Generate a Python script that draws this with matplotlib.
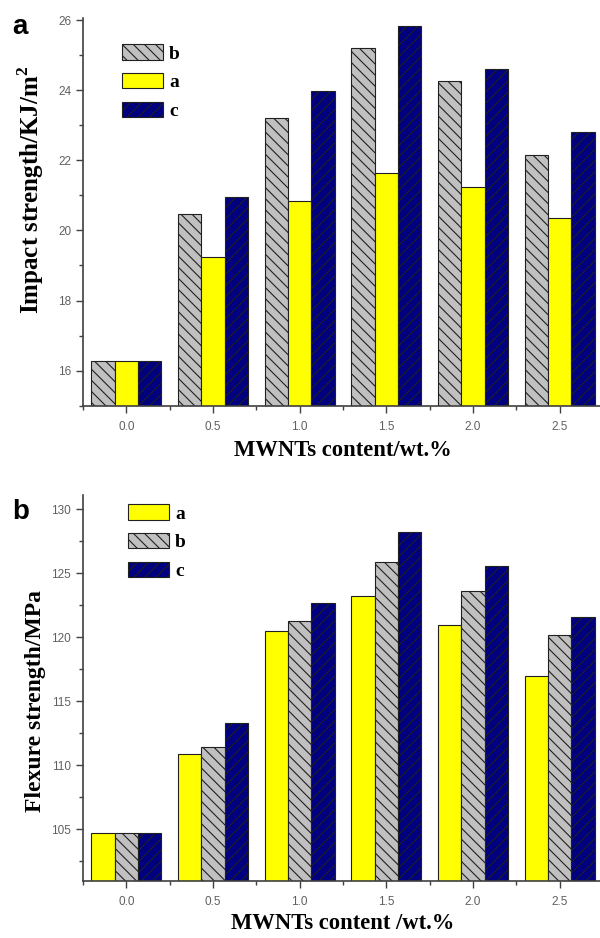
import matplotlib
matplotlib.use("Agg")
import matplotlib.pyplot as plt
import numpy as np
from matplotlib.ticker import MultipleLocator, FixedLocator

plt.rcParams['hatch.linewidth'] = 0.8
plt.rcParams['mathtext.fontset'] = 'custom'
plt.rcParams['mathtext.rm'] = 'Liberation Serif:bold'
plt.rcParams['mathtext.bf'] = 'Liberation Serif:bold'

# ---------------- data ----------------
content = [0.0, 0.5, 1.0, 1.5, 2.0, 2.5]
tick_labels = ["0.0", "0.5", "1.0", "1.5", "2.0", "2.5"]

impact_b = [16.27, 20.47, 23.20, 25.20, 24.27, 22.16]
impact_a = [16.27, 19.24, 20.83, 21.63, 21.25, 20.34]
impact_c = [16.27, 20.95, 23.97, 25.82, 24.60, 22.81]

flex_a = [104.70, 110.85, 120.45, 123.22, 120.98, 116.94]
flex_b = [104.70, 111.40, 121.26, 125.85, 123.60, 120.16]
flex_c = [104.70, 113.28, 122.67, 128.25, 125.58, 121.57]

W, H = 600, 938
fig = plt.figure(figsize=(W / 100, H / 100), dpi=100)

serif = 'Liberation Serif'
sans = 'Liberation Sans'
axc = '#404040'
tickc = '#606060'

styles = {
    'a': dict(color='#ffff00', hatch=None),
    'b': dict(color='#c0c0c0', hatch='\\\\\\'),
    'c': dict(color='#000080', hatch='///'),
}

def px_axes(left, top, right, bottom):
    return [left / W, 1 - bottom / H, (right - left) / W, (bottom - top) / H]

def style_axes(ax, ylim, ymaj, ymin):
    ax.set_xlim(-0.25, 2.75)
    ax.set_ylim(*ylim)
    for s in ['top', 'right']:
        ax.spines[s].set_visible(False)
    for s in ['left', 'bottom']:
        ax.spines[s].set_color(axc)
        ax.spines[s].set_linewidth(1.2)
    ax.xaxis.set_major_locator(FixedLocator(content))
    ax.set_xticklabels(tick_labels)
    ax.xaxis.set_minor_locator(FixedLocator([-0.25, 0.25, 0.75, 1.25, 1.75, 2.25, 2.75]))
    ax.yaxis.set_major_locator(MultipleLocator(ymaj))
    ax.yaxis.set_minor_locator(MultipleLocator(ymin))
    ax.tick_params(which='major', direction='out', length=5, width=1.0, color=axc,
                   labelsize=8.5, labelcolor=tickc)
    ax.tick_params(which='minor', direction='out', length=2.8, width=1.0, color=axc)
    ax.tick_params(axis='x', which='major', pad=6)
    ax.tick_params(axis='y', which='major', pad=3.5)
    for lab in ax.get_xticklabels() + ax.get_yticklabels():
        lab.set_fontfamily(sans)

def draw(ax, series, width=0.135):
    x = np.array(content)
    offs = [-width, 0, width]
    for (key, vals), off in zip(series, offs):
        st = styles[key]
        ax.bar(x + off, vals, width=width, color=st['color'], hatch=st['hatch'],
               edgecolor='#202020', linewidth=0.8, label=key, zorder=2)

legend_kw = dict(loc='upper left', frameon=False,
                 prop=dict(family=serif, weight='bold', size=14),
                 handlelength=2.14, handleheight=0.86, handletextpad=0.3,
                 labelspacing=0.53, borderpad=0, borderaxespad=0)

# ---------------- top panel ----------------
ax1 = fig.add_axes(px_axes(83, 18.3, 603, 405.7))
draw(ax1, [('b', impact_b), ('a', impact_a), ('c', impact_c)])
style_axes(ax1, (15, 26.05), 2, 1)
ax1.set_xlabel("MWNTs content/wt.%", fontfamily=serif, fontweight='bold', fontsize=16.3)
ax1.xaxis.set_label_coords(0.5, (405.7 - 440) / 387.4)
ax1.set_ylabel("Impact strength/KJ/m$^{2}$", fontfamily=serif, fontweight='bold', fontsize=18)
ax1.yaxis.set_label_coords((46 - 83) / 520, (405.7 - 190) / 387.4)
ax1.legend(bbox_to_anchor=(121.7 / W, 1 - 44 / H), bbox_transform=fig.transFigure,
           **legend_kw)
fig.text(12 / W, 1 - 34 / H, "a", fontfamily=sans, fontweight='bold', fontsize=20,
         ha='left', va='baseline')

# ---------------- bottom panel ----------------
ax2 = fig.add_axes(px_axes(83, 495, 603, 880.7))
draw(ax2, [('a', flex_a), ('b', flex_b), ('c', flex_c)])
style_axes(ax2, (101, 131.1), 5, 2.5)
ax2.set_xlabel("MWNTs content /wt.%", fontfamily=serif, fontweight='bold', fontsize=16.3)
ax2.xaxis.set_label_coords(0.5, (880.7 - 913) / 385.7)
ax2.set_ylabel("Flexure strength/MPa", fontfamily=serif, fontweight='bold', fontsize=17)
ax2.yaxis.set_label_coords((46 - 83) / 520, (880.7 - 701) / 385.7)
ax2.legend(bbox_to_anchor=(127.7 / W, 1 - 504 / H), bbox_transform=fig.transFigure,
           **legend_kw)
fig.text(12 / W, 1 - 519 / H, "b", fontfamily=sans, fontweight='bold', fontsize=20,
         ha='left', va='baseline')

fig.savefig("out.png", dpi=100)
